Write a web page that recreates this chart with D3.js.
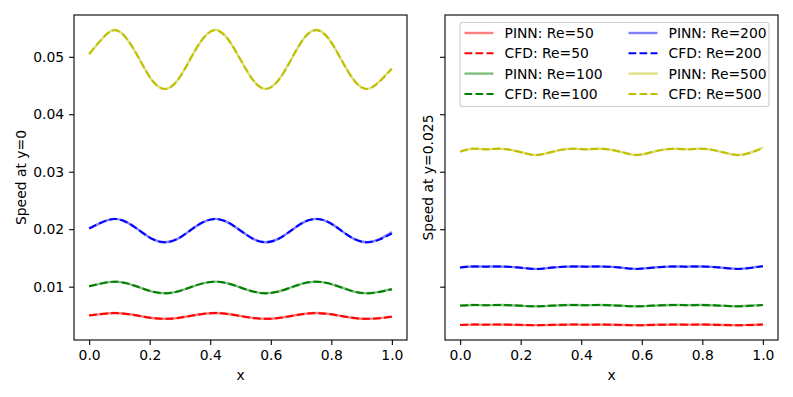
<!DOCTYPE html>
<html>
<head>
<meta charset="utf-8">
<script src="https://cdn.jsdelivr.net/npm/d3@7"></script>
<style>
  body { margin: 0; background: #fff; }
  text { font-family: "DejaVu Sans", sans-serif; }
</style>
</head>
<body>
<div id="chart"></div>
<script>
/* DATA */
const xs = [0, 0.042, 0.083, 0.125, 0.167, 0.208, 0.25, 0.292, 0.333, 0.375, 0.417, 0.458,
  0.5, 0.542, 0.583, 0.625, 0.667, 0.708, 0.75, 0.792, 0.833, 0.875, 0.917, 0.958, 1];

const reynolds = [50, 100, 200, 500];
const xTicks = [0, 0.2, 0.4, 0.6, 0.8, 1.0];
const yTicks = [0.01, 0.02, 0.03, 0.04, 0.05];

// speed at y=0
const cfd0_50 = [0.00500,0.00525,0.00540,0.00525,0.00490,0.00455,0.00440,0.00455,0.00490,0.00525,0.00540,0.00525,0.00490,0.00455,0.00440,0.00455,0.00490,0.00525,0.00540,0.00525,0.00490,0.00455,0.00440,0.00451,0.00475];
const pinn0_50 = [0.00501,0.00525,0.00541,0.00525,0.00490,0.00455,0.00440,0.00455,0.00490,0.00525,0.00541,0.00525,0.00490,0.00455,0.00440,0.00455,0.00490,0.00525,0.00541,0.00525,0.00490,0.00455,0.00440,0.00452,0.00478];
const cfd0_100 = [0.01006,0.01057,0.01087,0.01057,0.00986,0.00915,0.00885,0.00915,0.00986,0.01057,0.01087,0.01057,0.00986,0.00915,0.00885,0.00915,0.00986,0.01057,0.01087,0.01057,0.00986,0.00915,0.00885,0.00908,0.00955];
const pinn0_100 = [0.01004,0.01057,0.01088,0.01057,0.00986,0.00915,0.00885,0.00915,0.00986,0.01057,0.01088,0.01057,0.00986,0.00915,0.00885,0.00915,0.00986,0.01057,0.01088,0.01057,0.00986,0.00915,0.00886,0.00910,0.00960];
const cfd0_200 = [0.02015,0.02119,0.02178,0.02119,0.01975,0.01831,0.01772,0.01831,0.01975,0.02119,0.02178,0.02119,0.01975,0.01831,0.01772,0.01831,0.01975,0.02119,0.02178,0.02119,0.01975,0.01831,0.01772,0.01819,0.01925];
const pinn0_200 = [0.02012,0.02119,0.02180,0.02119,0.01975,0.01831,0.01772,0.01831,0.01975,0.02119,0.02180,0.02119,0.01975,0.01831,0.01772,0.01831,0.01975,0.02119,0.02180,0.02119,0.01975,0.01831,0.01773,0.01822,0.01950];
const cfd0_500 = [0.0505,0.0531,0.0546,0.0531,0.0495,0.0459,0.0444,0.0459,0.0495,0.0531,0.0546,0.0531,0.0495,0.0459,0.0444,0.0459,0.0495,0.0531,0.0546,0.0531,0.0495,0.0459,0.0444,0.0456,0.0479];
const pinn0_500 = [0.0504,0.0531,0.0547,0.0531,0.0495,0.0459,0.0444,0.0459,0.0495,0.0531,0.0547,0.0531,0.0495,0.0459,0.0444,0.0459,0.0495,0.0531,0.0547,0.0531,0.0495,0.0459,0.0444,0.0457,0.0480];

// speed at y=0.025
const cfd1_50 = [0.00335,0.00340,0.00339,0.00340,0.00338,0.00333,0.00329,0.00333,0.00338,0.00340,0.00339,0.00340,0.00338,0.00333,0.00329,0.00333,0.00338,0.00340,0.00339,0.00340,0.00338,0.00333,0.00329,0.00333,0.00341];
const pinn1_50 = [0.00336,0.00340,0.00339,0.00340,0.00338,0.00333,0.00330,0.00333,0.00338,0.00340,0.00339,0.00340,0.00338,0.00333,0.00330,0.00333,0.00338,0.00340,0.00339,0.00340,0.00338,0.00333,0.00330,0.00333,0.00341];
const cfd1_100 = [0.00670,0.00680,0.00678,0.00680,0.00676,0.00666,0.00658,0.00666,0.00676,0.00680,0.00678,0.00680,0.00676,0.00666,0.00658,0.00666,0.00676,0.00680,0.00678,0.00680,0.00676,0.00666,0.00658,0.00666,0.00682];
const pinn1_100 = [0.00671,0.00680,0.00678,0.00680,0.00676,0.00666,0.00659,0.00666,0.00676,0.00680,0.00678,0.00680,0.00676,0.00666,0.00659,0.00666,0.00676,0.00680,0.00678,0.00680,0.00676,0.00666,0.00659,0.00667,0.00683];
const cfd1_200 = [0.01332,0.01351,0.01348,0.01352,0.01344,0.01325,0.01308,0.01325,0.01344,0.01352,0.01348,0.01352,0.01344,0.01325,0.01308,0.01325,0.01344,0.01352,0.01348,0.01352,0.01344,0.01325,0.01308,0.01325,0.01356];
const pinn1_200 = [0.01333,0.01351,0.01348,0.01352,0.01344,0.01325,0.01309,0.01325,0.01344,0.01352,0.01348,0.01352,0.01344,0.01325,0.01309,0.01325,0.01344,0.01352,0.01348,0.01352,0.01344,0.01325,0.01309,0.01326,0.01358];
const cfd1_500 = [0.0335,0.0340,0.0339,0.0340,0.0338,0.0333,0.0329,0.0333,0.0338,0.0340,0.0339,0.0340,0.0338,0.0333,0.0329,0.0333,0.0338,0.0340,0.0339,0.0340,0.0338,0.0333,0.0329,0.0333,0.0341];
const pinn1_500 = [0.0335,0.0340,0.0339,0.0340,0.0338,0.0333,0.0329,0.0333,0.0338,0.0340,0.0339,0.0340,0.0338,0.0333,0.0329,0.0333,0.0338,0.0340,0.0339,0.0340,0.0338,0.0333,0.0329,0.0333,0.0342];

const colors = {50: "#ff0000", 100: "#008000", 200: "#0000ff", 500: "#bfbf00"};

const panels = [
  {label: "Speed at y=0", left: 74, right: 407, showY: true,
   pinn: [pinn0_50, pinn0_100, pinn0_200, pinn0_500],
   cfd: [cfd0_50, cfd0_100, cfd0_200, cfd0_500]},
  {label: "Speed at y=0.025", left: 445, right: 778, showY: false,
   pinn: [pinn1_50, pinn1_100, pinn1_200, pinn1_500],
   cfd: [cfd1_50, cfd1_100, cfd1_200, cfd1_500]}
];

/* CONSTANTS */
const width = 793, height = 397;
const plotTop = 15, plotBottom = 340;
const fs = 13.9;
const tickLen = 4.9, tickPad = 4.9;

const svg = d3.select("#chart").append("svg")
  .attr("width", width)
  .attr("height", height);

// shared y scale, autoscaled with 5% margin like matplotlib
const allVals = panels.flatMap(p => [...p.pinn, ...p.cfd].flat());
const [yMin, yMax] = d3.extent(allVals);
const yPad = (yMax - yMin) * 0.05;
const yScale = d3.scaleLinear()
  .domain([yMin - yPad, yMax + yPad])
  .range([plotBottom, plotTop]);

panels.forEach(p => {
  const xScale = d3.scaleLinear()
    .domain([-0.05, 1.05])
    .range([p.left, p.right]);

  const g = svg.append("g");

  const clipId = "clip" + p.left;
  g.append("clipPath").attr("id", clipId)
    .append("rect")
    .attr("x", p.left).attr("y", plotTop)
    .attr("width", p.right - p.left).attr("height", plotBottom - plotTop);

  const lineGen = d3.line()
    .x((d, i) => xScale(xs[i]))
    .y(d => yScale(d))
    .curve(d3.curveNatural);

  const lines = g.append("g").attr("clip-path", `url(#${clipId})`);
  reynolds.forEach((re, i) => {
    lines.append("path")
      .attr("d", lineGen(p.pinn[i]))
      .attr("fill", "none")
      .attr("stroke", colors[re])
      .attr("stroke-opacity", 0.5)
      .attr("stroke-width", 2.4);
    lines.append("path")
      .attr("d", lineGen(p.cfd[i]))
      .attr("fill", "none")
      .attr("stroke", colors[re])
      .attr("stroke-width", 2.0)
      .attr("stroke-dasharray", "7.7,3.3");
  });

  // axes
  const xAxis = d3.axisBottom(xScale)
    .tickValues(xTicks)
    .tickFormat(d3.format(".1f"))
    .tickSize(tickLen)
    .tickPadding(tickPad);
  const yAxis = d3.axisLeft(yScale)
    .tickValues(yTicks)
    .tickFormat(p.showY ? d3.format(".2f") : "")
    .tickSize(tickLen)
    .tickPadding(tickPad);

  const xg = g.append("g")
    .attr("transform", `translate(0,${plotBottom})`)
    .call(xAxis);
  const yg = g.append("g")
    .attr("transform", `translate(${p.left},0)`)
    .call(yAxis);
  [xg, yg].forEach(a => {
    a.select(".domain").remove();
    a.selectAll("line").attr("stroke", "#000").attr("stroke-width", 1.1);
    a.selectAll("text")
      .attr("fill", "#000")
      .style("font-size", fs + "px")
      .style("font-family", "DejaVu Sans");
  });

  // spines
  g.append("rect")
    .attr("x", p.left).attr("y", plotTop)
    .attr("width", p.right - p.left).attr("height", plotBottom - plotTop)
    .attr("fill", "none")
    .attr("stroke", "#000")
    .attr("stroke-width", 1.1);

  // labels
  g.append("text")
    .attr("x", (p.left + p.right) / 2)
    .attr("y", 380)
    .attr("text-anchor", "middle")
    .style("font-size", fs + "px")
    .text("x");
  g.append("text")
    .attr("transform", `translate(${p.showY ? 26 : 433},${(plotTop + plotBottom) / 2}) rotate(-90)`)
    .attr("text-anchor", "middle")
    .style("font-size", fs + "px")
    .text(p.label);
});

// legend in right panel, two columns
const legend = svg.append("g");
legend.append("rect")
  .attr("x", 460).attr("y", 22.5)
  .attr("width", 309).attr("height", 84)
  .attr("rx", 2.8)
  .attr("fill", "#fff").attr("fill-opacity", 0.8)
  .attr("stroke", "#cccccc").attr("stroke-width", 1.1);

const rowY = [33, 53.3, 73.6, 94];
const colX = [464.5, 628.5];
reynolds.forEach((re, i) => {
  const col = Math.floor(i / 2);
  ["PINN", "CFD"].forEach((kind, j) => {
    const y = rowY[(i % 2) * 2 + j];
    const x0 = colX[col];
    const line = legend.append("line")
      .attr("x1", x0).attr("x2", x0 + 29)
      .attr("y1", y).attr("y2", y)
      .attr("stroke", colors[re]);
    if (kind === "PINN") {
      line.attr("stroke-opacity", 0.5).attr("stroke-width", 2.4);
    } else {
      line.attr("stroke-width", 2.0).attr("stroke-dasharray", "7.7,3.3");
    }
    legend.append("text")
      .attr("x", x0 + 40)
      .attr("y", y)
      .attr("dy", "0.36em")
      .style("font-size", fs + "px")
      .text(`${kind}: Re=${re}`);
  });
});
</script>
</body>
</html>
